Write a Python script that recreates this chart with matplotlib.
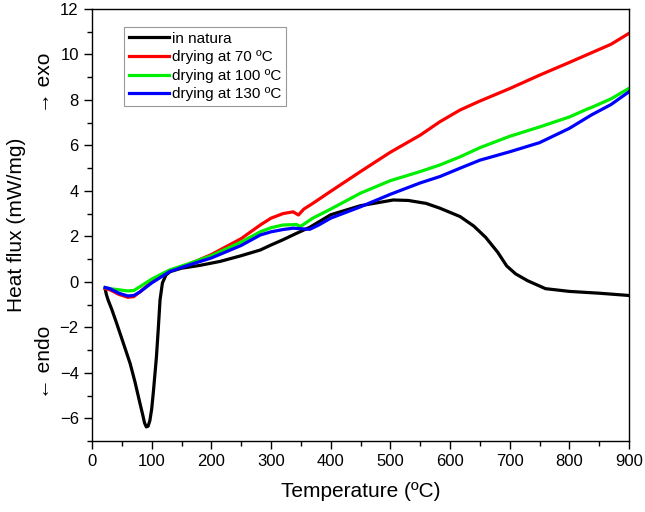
import matplotlib.pyplot as plt
from matplotlib.ticker import MultipleLocator

plt.rcParams['font.family'] = ['Liberation Sans', 'DejaVu Sans']

# in natura
t_nat = [22, 24, 27, 33, 41, 50, 64, 72, 80, 85, 88, 91, 94, 97, 100, 103, 106, 108, 111,
         114, 118, 124, 131, 150, 180, 215, 250, 282, 300, 320, 340, 365, 400, 450, 505,
         530, 560, 583, 617, 640, 660, 680, 695, 710, 730, 760, 800, 850, 900]
q_nat = [-0.3, -0.55, -0.8, -1.2, -1.8, -2.5, -3.6, -4.4, -5.3, -5.85, -6.2, -6.38, -6.35,
         -6.1, -5.6, -4.8, -3.9, -3.3, -2.1, -0.8, -0.05, 0.3, 0.45, 0.6, 0.72, 0.9, 1.15,
         1.4, 1.62, 1.85, 2.1, 2.4, 2.95, 3.35, 3.6, 3.58, 3.45, 3.24, 2.87, 2.45, 1.95,
         1.3, 0.7, 0.35, 0.05, -0.3, -0.42, -0.5, -0.6]

# drying at 70 ºC
t_70 = [22, 30, 45, 60, 70, 80, 100, 130, 160, 200, 250, 282, 300, 320, 337, 346, 355, 370,
        400, 450, 500, 550, 583, 617, 650, 700, 751, 800, 835, 870, 900]
q_70 = [-0.3, -0.35, -0.55, -0.68, -0.65, -0.45, 0.0, 0.5, 0.75, 1.2, 1.9, 2.5, 2.8, 3.0,
        3.08, 2.94, 3.2, 3.45, 3.98, 4.85, 5.7, 6.45, 7.04, 7.56, 7.95, 8.5, 9.1, 9.65,
        10.05, 10.45, 10.93]

# drying at 100 ºC
t_100 = [22, 30, 45, 60, 70, 80, 100, 130, 160, 200, 250, 282, 300, 320, 343, 349, 370, 400,
         450, 500, 550, 583, 617, 650, 700, 751, 800, 830, 838, 870, 900]
q_100 = [-0.25, -0.3, -0.35, -0.4, -0.38, -0.22, 0.12, 0.52, 0.78, 1.15, 1.75, 2.2, 2.38,
         2.5, 2.52, 2.43, 2.8, 3.2, 3.9, 4.45, 4.85, 5.14, 5.5, 5.9, 6.4, 6.82, 7.25, 7.6,
         7.68, 8.05, 8.51]

# drying at 130 ºC
t_130 = [22, 30, 45, 60, 70, 80, 100, 130, 160, 200, 250, 282, 300, 320, 337, 365, 380, 400,
         450, 500, 550, 583, 617, 650, 700, 750, 800, 837, 870, 900]
q_130 = [-0.25, -0.3, -0.5, -0.62, -0.6, -0.45, -0.05, 0.45, 0.72, 1.05, 1.6, 2.06, 2.2,
         2.3, 2.36, 2.31, 2.5, 2.8, 3.3, 3.85, 4.35, 4.63, 5.0, 5.35, 5.72, 6.12, 6.75,
         7.34, 7.8, 8.36]

fig = plt.figure(figsize=(6.45, 5.12), dpi=100)
ax = fig.add_axes([92 / 645, 71 / 512, 537 / 645, 432 / 512])

ax.plot(t_nat, q_nat, color='black', lw=2.3, label='in natura')
ax.plot(t_70, q_70, color='#ff0000', lw=2.3, label='drying at 70 ºC')
ax.plot(t_100, q_100, color='#00ee00', lw=2.3, label='drying at 100 ºC')
ax.plot(t_130, q_130, color='#0000ff', lw=2.3, label='drying at 130 ºC')

ax.set_xlim(0, 900)
ax.set_ylim(-7, 12)
ax.xaxis.set_major_locator(MultipleLocator(100))
ax.xaxis.set_minor_locator(MultipleLocator(50))
ax.yaxis.set_major_locator(MultipleLocator(2))
ax.yaxis.set_minor_locator(MultipleLocator(1))
ax.tick_params(which='major', direction='out', length=6, width=1, labelsize=12)
ax.tick_params(which='minor', direction='out', length=3.5, width=1)
for s in ax.spines.values():
    s.set_linewidth(1)

ax.set_xlabel('Temperature (ºC)', fontsize=15, labelpad=9)
fig.text(17 / 645, 1 - 225 / 512, 'Heat flux (mW/mg)', rotation=90, fontsize=15,
         ha='center', va='center')
fig.text(45 / 645, 1 - 83 / 512, '→ exo', rotation=90, fontsize=15,
         ha='center', va='center')
fig.text(45 / 645, 1 - 362 / 512, '← endo', rotation=90, fontsize=15,
         ha='center', va='center')

leg = ax.legend(loc='upper left', bbox_to_anchor=(0.06, 0.958), fontsize=11,
                frameon=True, fancybox=False, edgecolor='#999999', framealpha=1,
                handlelength=2.6, handletextpad=0.25, borderpad=0.3, labelspacing=0.3,
                borderaxespad=0)
leg.get_frame().set_linewidth(0.8)

fig.savefig('out.png', dpi=100)
